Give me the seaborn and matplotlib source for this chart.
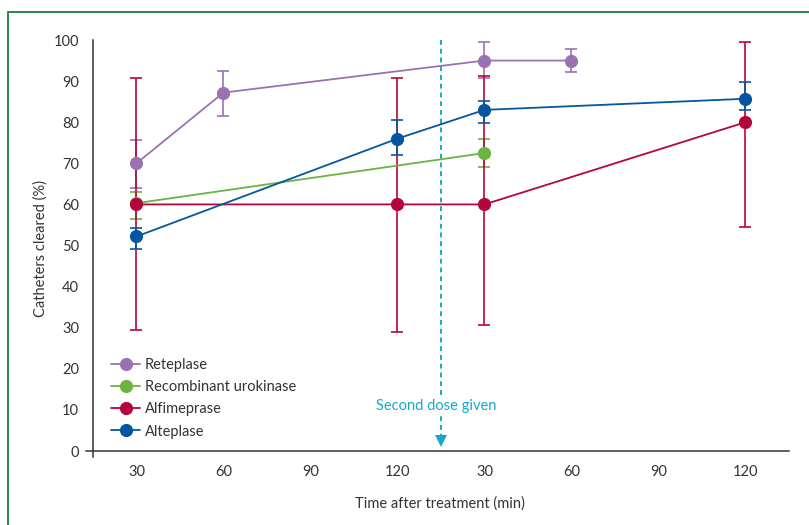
import numpy as np
import pandas as pd
import matplotlib
matplotlib.use("Agg")
import matplotlib.pyplot as plt
from matplotlib.patches import Rectangle
import seaborn as sns

# x axis: two blocks of time points (before / after second dose)
time_labels = ["30", "60", "90", "120", "30", "60", "90", "120"]

# slot index into time_labels, mean, lower and upper error limit
reteplase_idx = [0, 1, 4, 5]
reteplase_val = [70.0, 87.2, 95.0, 95.0]
reteplase_lo = [64.1, 81.6, 90.7, 92.3]
reteplase_hi = [75.6, 92.4, 99.4, 97.8]

urokinase_idx = [0, 4]
urokinase_val = [60.3, 72.5]
urokinase_lo = [56.5, 69.0]
urokinase_hi = [62.9, 75.9]

alfimeprase_idx = [0, 3, 4, 7]
alfimeprase_val = [60.0, 60.0, 60.0, 80.0]
alfimeprase_lo = [29.4, 29.0, 30.7, 54.4]
alfimeprase_hi = [90.7, 90.8, 91.3, 99.4]

alteplase_idx = [0, 3, 4, 7]
alteplase_val = [52.2, 76.0, 83.0, 85.7]
alteplase_lo = [49.1, 72.0, 79.7, 83.0]
alteplase_hi = [54.3, 80.5, 85.2, 89.9]

dose_slot = 4  # boundary between the two blocks

series = [
    ("Reteplase", reteplase_idx, reteplase_val, reteplase_lo, reteplase_hi, "#9a72b2"),
    ("Recombinant urokinase", urokinase_idx, urokinase_val, urokinase_lo, urokinase_hi, "#6cb43f"),
    ("Alfimeprase", alfimeprase_idx, alfimeprase_val, alfimeprase_lo, alfimeprase_hi, "#b4063c"),
    ("Alteplase", alteplase_idx, alteplase_val, alteplase_lo, alteplase_hi, "#0556a0"),
]

sns.set_style("white")
plt.rcParams['font.family'] = ['Lato', 'DejaVu Sans']
ink = "#333333"

fig = plt.figure(figsize=(8.09, 5.25), dpi=100)
# pixel frame: x from 86 to 789, y from 40 (100 %) to 457 (-1.5 %)
ax = fig.add_axes([86 / 809, 1 - 457.2 / 525, (789 - 86) / 809, (457.2 - 40) / 525])

# error bars first, then lines with markers on top
for name, idx, val, lo, hi, col in series:
    x = np.array(idx) + 0.5
    v = np.array(val)
    yerr = [v - np.array(lo), np.array(hi) - v]
    ax.errorbar(x, v, yerr=yerr, fmt='none', ecolor=col, elinewidth=1.4,
                capsize=4.5, capthick=1.4, alpha=0.85, zorder=2)

for name, idx, val, lo, hi, col in series:
    df = pd.DataFrame({'slot': np.array(idx) + 0.5, 'value': val})
    sns.lineplot(data=df, x='slot', y='value', ax=ax, color=col, linewidth=1.3,
                 marker='o', markersize=9.5, markeredgewidth=0, label=name,
                 zorder=3)

# second dose marker
ax.plot([dose_slot, dose_slot], [100, 3.5], color="#1ba7c9", linewidth=1.4,
        linestyle=(0, (2.5, 2.0)), zorder=1)
ax.plot([dose_slot], [2.4], marker='v', markersize=9, color="#1ba7c9",
        markeredgewidth=0, zorder=1, clip_on=False)
ax.text(dose_slot - 0.05, 11, "Second dose given", color="#1ba7c9", fontsize=10.5,
        ha='center', va='center',
        bbox=dict(facecolor='white', edgecolor='none', pad=1.5), zorder=1.5)

ax.set_xlim(-0.08, 8)
ax.set_ylim(-1.5, 100)
ax.spines['left'].set_position(('data', 0))
ax.spines['bottom'].set_position(('data', 0))
ax.spines['right'].set_visible(False)
ax.spines['top'].set_visible(False)
for s in ('left', 'bottom'):
    ax.spines[s].set_color(ink)
    ax.spines[s].set_linewidth(1.1)

ax.set_yticks(np.arange(0, 101, 10))
ax.set_xticks(np.arange(0, 9))
ax.set_xticklabels([])
ax.set_xticks(np.arange(len(time_labels)) + 0.5, minor=True)
ax.set_xticklabels(time_labels, minor=True)
ax.tick_params(axis='x', which='major', direction='out', length=7, width=1.1,
               color=ink)
ax.tick_params(axis='x', which='minor', length=0, pad=10, labelsize=10.5,
               labelcolor=ink)
ax.tick_params(axis='y', direction='out', length=7, width=1.1, color=ink,
               labelsize=10.5, labelcolor=ink, pad=3)

ax.set_xlabel("Time after treatment (min)", fontsize=10.5, color=ink)
ax.set_ylabel("Catheters cleared (%)", fontsize=10.5, color=ink)
ax.yaxis.set_label_coords(-0.054, 0.5)
ax.xaxis.set_label_coords(0.504, -0.095)

ax.legend(loc='upper left', bbox_to_anchor=(0.021, 0.262), frameon=False,
          fontsize=10.5, handlelength=2.0, handletextpad=0.3,
          labelspacing=0.56, borderaxespad=0.3, labelcolor=ink)

# green frame around the panel
fig.patches.append(Rectangle((8 / 809, -0.05), 1.1, 0.05 + (1 - 12 / 525),
                             transform=fig.transFigure, fill=False,
                             edgecolor="#1b7d3c", linewidth=1.3))

fig.savefig("out.png", dpi=100)
